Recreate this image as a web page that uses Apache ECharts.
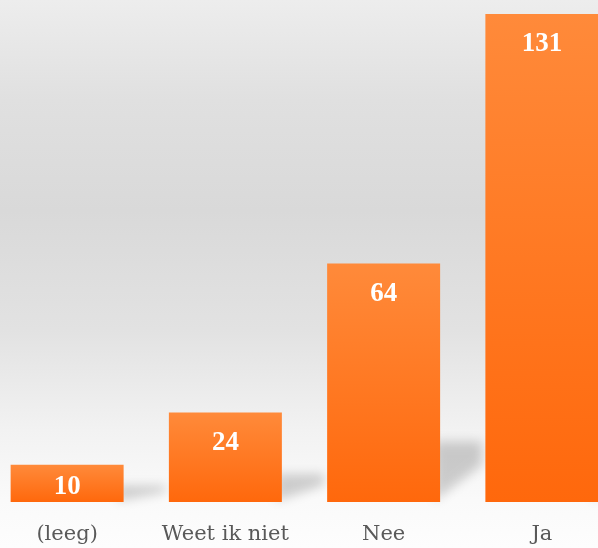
<!DOCTYPE html>
<html>
<head>
<meta charset="utf-8">
<script src="https://cdn.jsdelivr.net/npm/echarts@6/dist/echarts.min.js"></script>
<style>
  html, body { margin: 0; padding: 0; overflow: hidden; }
  body {
    width: 598px; height: 548px; position: relative;
    background: linear-gradient(to bottom, #ededed 0px, #e0e0e0 100px, #d9d9d9 210px, #e2e2e2 330px, #f2f2f2 430px, #fafafa 500px, #fdfdfd 548px);
  }
  #chart { position: absolute; left: -12px; top: 0; width: 633px; height: 548px; }
</style>
</head>
<body>
<div id="chart"></div>
<script>
const categories = ['(leeg)', 'Weet ik niet', 'Nee', 'Ja'];
const values = [10, 24, 64, 131];

const chart = echarts.init(document.getElementById('chart'), null, { renderer: 'canvas' });

const barData = values.map(function (v, i) {
  const item = { value: v };
  if (v < 15) {
    item.label = { position: 'insideBottom', distance: 1 };
  }
  return item;
});

const option = {
  backgroundColor: 'transparent',
  animation: false,
  grid: { left: 0, right: 0, top: 14, bottom: 46, containLabel: false },
  xAxis: {
    type: 'category',
    data: categories,
    axisLine: { show: false },
    axisTick: { show: false },
    splitLine: { show: false },
    axisLabel: {
      interval: 0,
      margin: 22,
      fontFamily: "'DejaVu Serif', serif",
      fontSize: 21,
      color: '#595959'
    }
  },
  yAxis: {
    type: 'value',
    min: 0,
    max: 131,
    show: false,
    splitLine: { show: false }
  },
  series: [
    {
      type: 'custom',
      z: 1,
      silent: true,
      data: values.map(function (v, i) { return [i, v]; }),
      renderItem: function (params, api) {
        const idx = api.value(0);
        const val = api.value(1);
        const base = api.coord([idx, 0]);
        const top = api.coord([idx, val]);
        const bw = api.size([1, 0])[0] * 0.714;
        const xr = base[0] + bw / 2;
        const h = base[1] - top[1];
        const sh = Math.min(62, 8 + h * 0.22);
        const L = 42;
        const off = 2000;
        const pts = [
          [xr - 6 - off, base[1] - 1],
          [xr - 6 - off, base[1] - sh],
          [xr + L - off, base[1] - sh],
          [xr + L - off, base[1] - sh * 0.62]
        ];
        return {
          type: 'polygon',
          shape: { points: pts },
          style: {
            fill: '#000',
            shadowColor: 'rgba(0,0,0,0.18)',
            shadowBlur: 11,
            shadowOffsetX: off,
            shadowOffsetY: 0
          }
        };
      }
    },
    {
      type: 'bar',
      z: 3,
      data: barData,
      barWidth: '71.4%',
      itemStyle: {
        color: new echarts.graphic.LinearGradient(0, 0, 0, 1, [
          { offset: 0, color: '#ff8a3a' },
          { offset: 1, color: '#ff680c' }
        ])
      },
      label: {
        show: true,
        position: 'insideTop',
        distance: 17,
        color: '#ffffff',
        fontFamily: "'Liberation Serif', serif",
        fontWeight: 'bold',
        fontSize: 27
      }
    }
  ]
};

chart.setOption(option);
</script>
</body>
</html>
